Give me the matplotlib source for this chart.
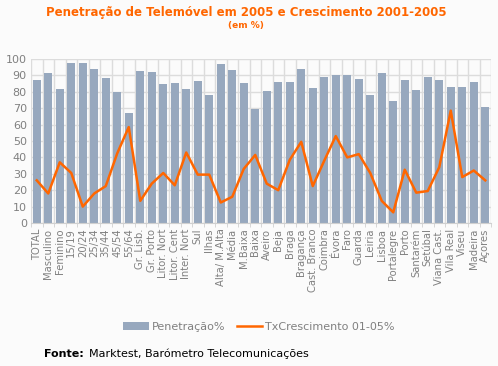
import numpy as np
import matplotlib.pyplot as plt

# categories and values
categorias = ["TOTAL", "Masculino", "Feminino", "15/19", "20/24", "25/34", "35/44",
              "45/54", "55/64", "Gr. Lisb.", "Gr. Porto", "Litor. Nort", "Litor. Cent",
              "Inter. Nort", "Sul", "Ilhas", "Alta/ M.Alta", "Média", "M.Baixa", "Baixa",
              "Aveiro", "Beja", "Braga", "Bragança", "Cast. Branco", "Coimbra", "Évora",
              "Faro", "Guarda", "Leiria", "Lisboa", "Portalegre", "Porto", "Santarém",
              "Setúbal", "Viana Cast.", "Vila Real", "Viseu", "Madeira", "Açores"]
penetracao = [87, 91.5, 82, 97.5, 97.5, 94, 88.5, 80, 67, 92.5,
              92, 85, 85.5, 82, 86.5, 78, 97, 93.5, 85.5, 69.5,
              80.5, 86, 86, 94, 82.5, 89, 90, 90, 88, 78,
              91.5, 74.5, 87, 81, 89, 87, 83, 83, 86, 70.5]
crescimento = [26, 18, 37, 30.5, 10, 18, 22.5, 42.5, 58.5, 13.5,
               24, 30.5, 23, 43, 29.5, 29.5, 12.5, 16, 33, 41.5,
               24, 20, 38.5, 49.5, 22.5, 38, 53, 40, 42, 30.5,
               13.5, 6.5, 32.5, 18.5, 19.5, 34, 68.5, 28, 32, 26]

bar_color = "#97a8be"
line_color = "#ff6600"
bg = "#fbfbfb"
txt = "#808080"

fig = plt.figure(figsize=(4.98, 3.66), dpi=100, facecolor=bg)
ax = fig.add_axes([31/498, 143/366, 460/498, 164/366], facecolor=bg)

x = np.arange(len(categorias))
barras = ax.bar(x, penetracao, width=0.68, color=bar_color, zorder=2, label="Penetração%")
linha, = ax.plot(x, crescimento, color=line_color, lw=1.8, zorder=3, label="TxCrescimento 01-05%")

ax.set_xlim(-0.5, len(categorias) - 0.5)
ax.set_ylim(0, 100)
ax.set_yticks(np.arange(0, 101, 10))
ax.set_xticks(x)
ax.set_xticklabels(categorias, rotation=90, fontsize=7.2, color=txt)
ax.set_xticks(np.arange(-0.5, len(categorias), 1), minor=True)
ax.tick_params(axis="x", which="major", length=0, pad=4)
ax.tick_params(axis="x", which="minor", length=3, color="#d0d0d0")
ax.tick_params(axis="y", length=0, labelsize=8, labelcolor=txt, pad=3)

ax.grid(axis="y", color="#dcdcdc", lw=1, zorder=0)
ax.grid(axis="x", which="minor", color="#dcdcdc", lw=1, zorder=0)
for s in ["top", "right", "left"]:
    ax.spines[s].set_visible(False)
ax.spines["bottom"].set_color("#d0d0d0")

fig.text(0.494, 0.965, "Penetração de Telemóvel em 2005 e Crescimento 2001-2005",
         ha="center", va="center", color=line_color, fontsize=8.5, fontweight="bold")
fig.text(0.494, 0.93, "(em %)", ha="center", va="center", color=line_color,
         fontsize=6.5, fontweight="bold")

fig.legend(handles=[barras, linha], loc="center", bbox_to_anchor=(0.52, 1 - 327/366),
           ncol=2, frameon=False, fontsize=8, labelcolor=txt, handlelength=2.3,
           handletextpad=0.3, columnspacing=1.0)

fig.text(44/498, 1 - 354/366, "Fonte:", fontsize=8, fontweight="bold", va="center")
fig.text(89/498, 1 - 354/366, "Marktest, Barómetro Telecomunicações", fontsize=8, va="center")

fig.savefig("out.png", dpi=100, facecolor=bg)
